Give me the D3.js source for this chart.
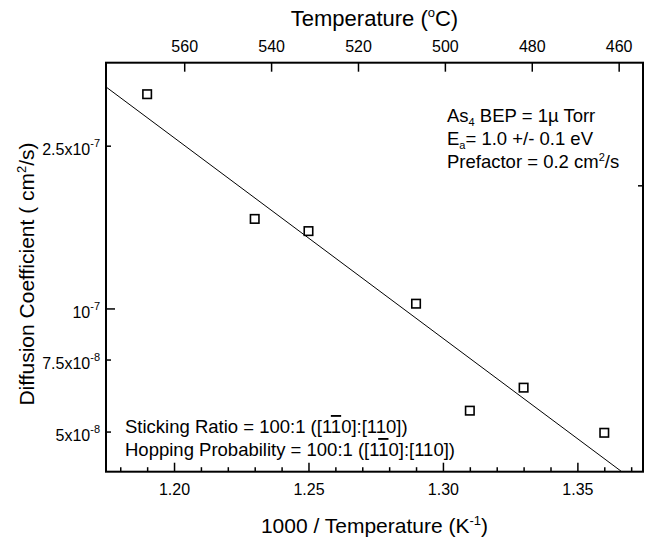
<!DOCTYPE html>
<html><head><meta charset="utf-8">
<script src="https://cdn.jsdelivr.net/npm/d3@7/dist/d3.min.js"></script>
<style>
html,body{margin:0;padding:0;background:#fff;}
svg{display:block;font-family:"Liberation Sans",Arial,sans-serif;}
</style></head>
<body>
<svg id="chart" width="649" height="541"></svg>
<script>
// ---- data ----
const invTemp = [1.19, 1.23, 1.25, 1.29, 1.31, 1.33, 1.36];          // 1000/T (K^-1)
const diffusion = [3.35e-7, 1.66e-7, 1.55e-7, 1.03e-7, 5.64e-8, 6.42e-8, 4.98e-8]; // cm^2/s
const fitX = [1.1747, 1.3665];
const fitY = [3.49e-7, 4.0e-8];
const bottomMajor = [1.20, 1.25, 1.30, 1.35];
const bottomMinor = [1.18, 1.19, 1.21, 1.22, 1.23, 1.24, 1.26, 1.27, 1.28, 1.29, 1.31, 1.32, 1.33, 1.34, 1.36, 1.37];
const topTicks = [560, 540, 520, 500, 480, 460];
const leftTicks = [2.5e-7, 1e-7, 7.5e-8, 5e-8];
const leftMantissa = ["2.5x10", "10", "7.5x10", "5x10"];
const leftExponent = ["-7", "-7", "-8", "-8"];
const leftMajor = [false, true, false, false];
const rightTicks = [2e-7];

const svg = d3.select("#chart");
const L = 106, R = 643, T = 62.7, B = 471.7;
const FONT = "Liberation Sans, Arial, sans-serif";

const x = d3.scaleLinear().domain([1.1747, 1.3744]).range([L, R]);
const xTop = d3.scaleLinear().domain([578, 454.4]).range([L, R]);
const y = d3.scaleLog().domain([4e-8, 4e-7]).range([B, T]);

// bottom axis
const gB = svg.append("g").attr("transform", `translate(0,${B})`);
gB.call(d3.axisBottom(x).tickValues(bottomMajor).tickSize(-9).tickPadding(12)
  .tickFormat(d3.format(".2f")));
gB.append("g").call(d3.axisBottom(x).tickValues(bottomMinor).tickSize(-4.5).tickFormat(""));
gB.selectAll(".domain").remove();
gB.selectAll("line").attr("stroke", "#000").attr("stroke-width", 1.5);
gB.selectAll("text").attr("font-size", 16).attr("fill", "#000").attr("font-family", FONT);

// top axis
const gT = svg.append("g").attr("transform", `translate(0,${T})`);
gT.call(d3.axisTop(xTop).tickValues(topTicks).tickSize(-9).tickPadding(11).tickFormat(d3.format("d")));
gT.selectAll(".domain").remove();
gT.selectAll("line").attr("stroke", "#000").attr("stroke-width", 1.5);
gT.selectAll("text").attr("font-size", 16).attr("fill", "#000").attr("font-family", FONT);

// left axis ticks
const gL = svg.append("g");
gL.selectAll("line").data(leftTicks).join("line")
  .attr("x1", L).attr("x2", (d, i) => L + (leftMajor[i] ? 9 : 5))
  .attr("y1", d => y(d)).attr("y2", d => y(d))
  .attr("stroke", "#000").attr("stroke-width", 1.5);
const lt = gL.selectAll("text").data(leftTicks).join("text")
  .attr("x", 100).attr("y", d => y(d) + 9)
  .attr("text-anchor", "end").attr("font-size", 16).attr("fill", "#000");
lt.append("tspan").text((d, i) => leftMantissa[i]);
lt.append("tspan").attr("font-size", 11).attr("dy", -8).text((d, i) => leftExponent[i]);

// right axis ticks
svg.append("g").selectAll("line").data(rightTicks).join("line")
  .attr("x1", R).attr("x2", R - 5).attr("y1", d => y(d)).attr("y2", d => y(d))
  .attr("stroke", "#000").attr("stroke-width", 1.5);

// frame
svg.append("rect").attr("x", L).attr("y", T).attr("width", R - L).attr("height", B - T)
  .attr("fill", "none").attr("stroke", "#000").attr("stroke-width", 2);

// fit line
const line = d3.line().x(d => x(d[0])).y(d => y(d[1]));
svg.append("path").datum(fitX.map((v, i) => [v, fitY[i]])).attr("d", line)
  .attr("fill", "none").attr("stroke", "#000").attr("stroke-width", 1);

// points
const s = 8.5;
svg.append("g").selectAll("rect").data(invTemp).join("rect")
  .attr("x", (d) => x(d) - s / 2).attr("y", (d, i) => y(diffusion[i]) - s / 2)
  .attr("width", s).attr("height", s)
  .attr("fill", "#fff").attr("stroke", "#000").attr("stroke-width", 1.6);

// titles
const topTitle = svg.append("text").attr("x", (L + R) / 2).attr("y", 26)
  .attr("text-anchor", "middle").attr("font-size", 22).attr("fill", "#000");
topTitle.append("tspan").text("Temperature (");
topTitle.append("tspan").attr("font-size", 13).attr("dy", -9).text("o");
topTitle.append("tspan").attr("dy", 9).text("C)");

const botTitle = svg.append("text").attr("x", (L + R) / 2).attr("y", 533)
  .attr("text-anchor", "middle").attr("font-size", 21).attr("fill", "#000");
botTitle.append("tspan").text("1000 / Temperature (K");
botTitle.append("tspan").attr("font-size", 13).attr("dy", -8).text("-1");
botTitle.append("tspan").attr("dy", 8).text(")");

const leftTitle = svg.append("text").attr("transform", "translate(34,274) rotate(-90)")
  .attr("text-anchor", "middle").attr("font-size", 21).attr("fill", "#000");
leftTitle.append("tspan").text("Diffusion Coefficient ( cm");
leftTitle.append("tspan").attr("font-size", 13).attr("dy", -8).text("2");
leftTitle.append("tspan").attr("dy", 8).text("/s)");

// annotations (top right)
const fs = 18.5;
const a1 = svg.append("text").attr("x", 447).attr("y", 122).attr("font-size", fs).attr("fill", "#000");
a1.append("tspan").text("As");
a1.append("tspan").attr("font-size", 11).attr("dy", 4).text("4");
a1.append("tspan").attr("dy", -4).text(" BEP = 1\u00b5 Torr");
const a2 = svg.append("text").attr("x", 447).attr("y", 145).attr("font-size", fs).attr("fill", "#000");
a2.append("tspan").text("E");
a2.append("tspan").attr("font-size", 11).attr("dy", 4).text("a");
a2.append("tspan").attr("dy", -4).text("= 1.0 +/- 0.1 eV");
const a3 = svg.append("text").attr("x", 447).attr("y", 168).attr("font-size", fs).attr("fill", "#000");
a3.append("tspan").text("Prefactor = 0.2 cm");
a3.append("tspan").attr("font-size", 11).attr("dy", -7).text("2");
a3.append("tspan").attr("dy", 7).text("/s");

// annotations (bottom left)
function ratioLine(label, yy) {
  const t = svg.append("text").attr("x", 125).attr("y", yy).attr("font-size", fs).attr("fill", "#000");
  t.append("tspan").text(label + " = 100:1 ([1");
  t.append("tspan").style("text-decoration", "overline").text("1");
  t.append("tspan").text("0]:[110])");
}
ratioLine("Sticking Ratio", 433);
ratioLine("Hopping Probability", 456);
</script>
</body></html>
